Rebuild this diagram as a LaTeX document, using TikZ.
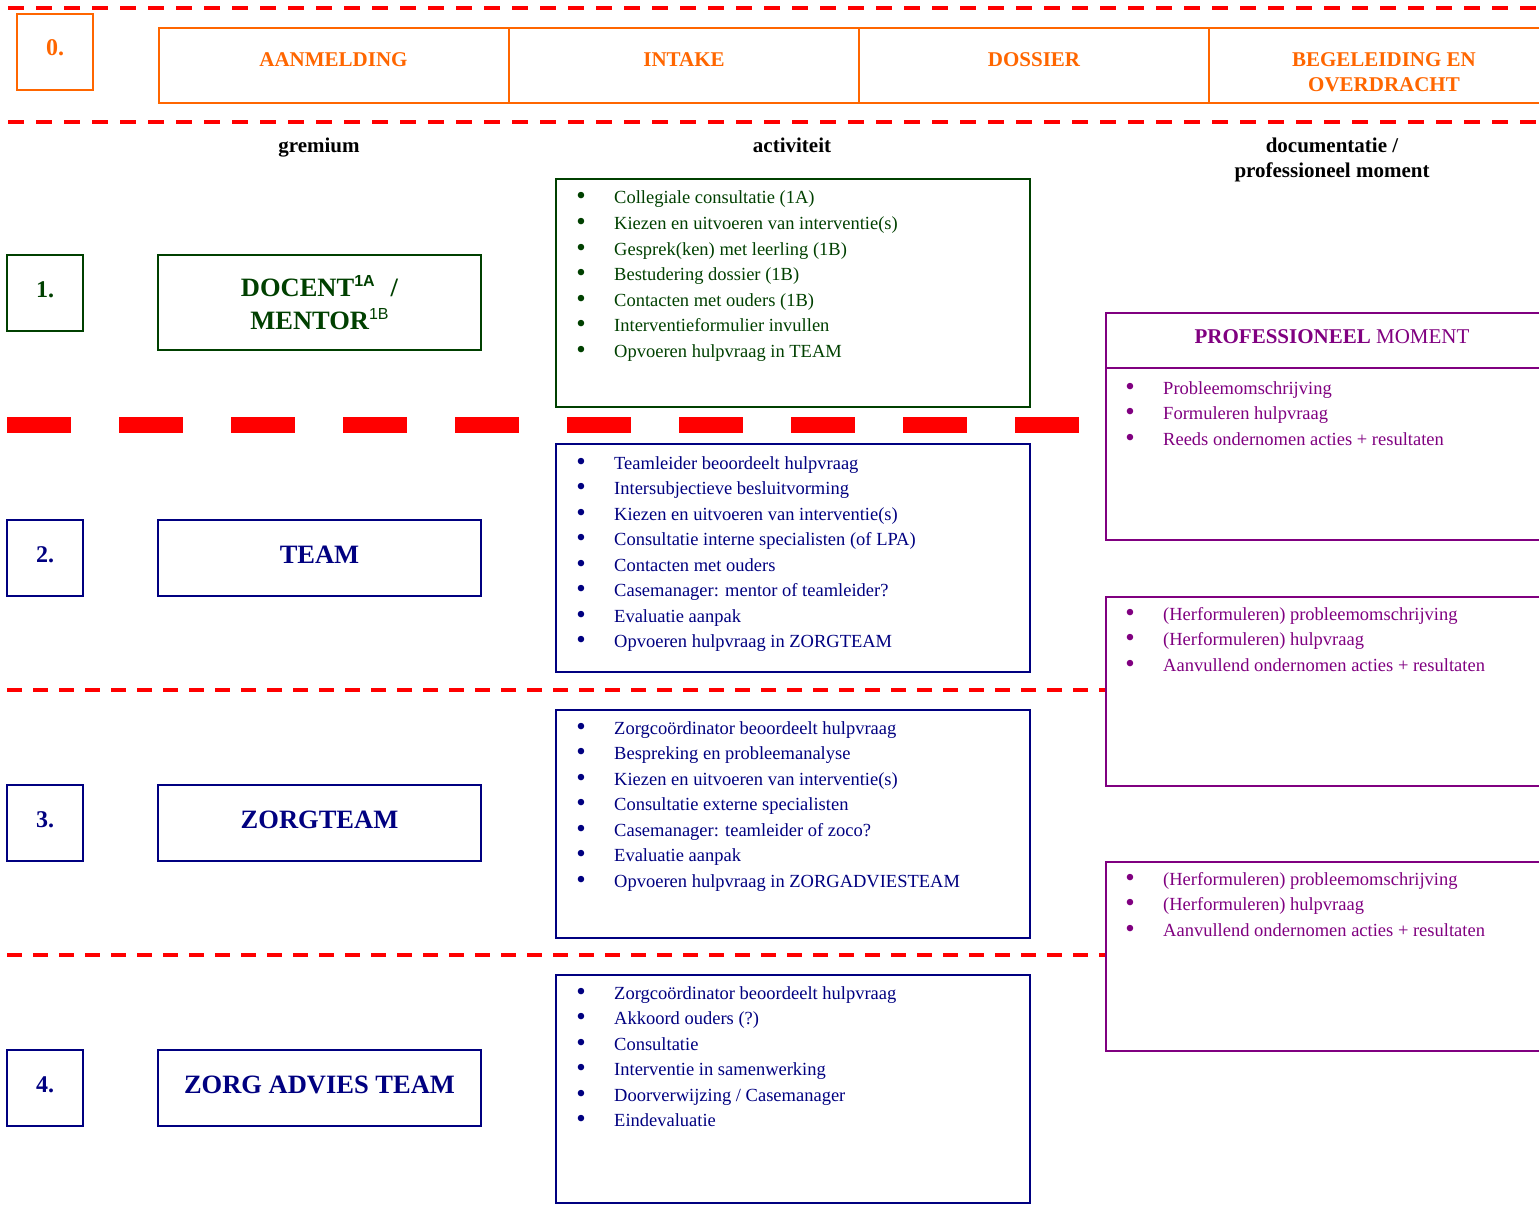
\documentclass[tikz,border=0pt]{standalone}
\usepackage{fontspec}
\setmainfont{Liberation Serif}
\newfontfamily\supfont{Liberation Sans}
\definecolor{orng}{RGB}{255,102,0}
\definecolor{dgreen}{RGB}{0,64,0}
\definecolor{navy}{RGB}{0,0,128}
\definecolor{purp}{RGB}{128,0,128}
\definecolor{rred}{RGB}{255,0,0}
\tikzset{
  box/.style={draw, line width=2pt, inner sep=0pt, align=center},
  numbox/.style={box, minimum width=76pt, minimum height=76pt},
  numtxt/.style={inner sep=0pt, font=\fontsize{24}{28}\selectfont\bfseries},
  grembox/.style={box, minimum width=323pt, font=\fontsize{26.5}{32}\selectfont\bfseries},
  actbox/.style={box, minimum width=474pt, minimum height=228pt},
  pmbox/.style={box, minimum width=455pt, anchor=north west},
  hdrcell/.style={box, minimum width=350pt, minimum height=75pt},
  hdrtxt/.style={inner sep=0pt, align=center, font=\fontsize{21}{25}\selectfont\bfseries},
  colhead/.style={font=\fontsize{21}{25}\selectfont\bfseries, align=center, anchor=base, inner sep=0pt},
  itm/.style={anchor=base west, inner sep=0pt, font=\fontsize{18.5}{22}\selectfont},
  bul/.style={anchor=base, inner sep=0pt, font=\fontsize{27}{30}\selectfont},
  rowdash/.style={draw=rred, line width=3.8pt, dash pattern=on 15pt off 11pt},
  topdash/.style={draw=rred, line width=3.8pt, dash pattern=on 16pt off 12pt},
  thickdash/.style={draw=rred, line width=16pt, dash pattern=on 64pt off 48pt},
}
\begin{document}
\begin{tikzpicture}[x=1pt,y=-1pt]
\useasboundingbox (0,0) rectangle (1539,1217);

% dashed separators
\coordinate (t1a) at (8,8);   \coordinate (t1b) at (1545,8);
\coordinate (t2a) at (8,122); \coordinate (t2b) at (1545,122);
\draw[topdash] (t1a) -- (t1b);
\draw[topdash] (t2a) -- (t2b);
\coordinate (k1a) at (7,425); \coordinate (k1b) at (1080,425);
\draw[thickdash] (k1a) -- (k1b);
\coordinate (r2a) at (7,690); \coordinate (r2b) at (1105,690);
\coordinate (r3a) at (7,955); \coordinate (r3b) at (1105,955);
\draw[rowdash] (r2a) -- (r2b);
\draw[rowdash] (r3a) -- (r3b);

% header row
\node[numbox, draw=orng] (n0) at (55,52) {};
\node[numtxt, text=orng] (n0t) at (55,48) {0.};
\node[hdrcell, draw=orng] (h1) at (333.5,65.5) {};
\node[hdrcell, draw=orng] (h2) at (684,65.5) {};
\node[hdrcell, draw=orng] (h3) at (1034,65.5) {};
\node[hdrcell, draw=orng] (h4) at (1384,65.5) {};
\node[hdrtxt, text=orng] (h1t) at (333.5,60) {AANMELDING};
\node[hdrtxt, text=orng] (h2t) at (684,60) {INTAKE};
\node[hdrtxt, text=orng] (h3t) at (1034,60) {DOSSIER};
\node[hdrtxt, text=orng, anchor=base] (h4t) at (1384,91.5) {BEGELEIDING EN\\OVERDRACHT};

% column headings
\node[colhead] (cg) at (319,153) {gremium};
\node[colhead] (ca) at (792,153) {activiteit};
\node[colhead] (cd) at (1332,178) {documentatie /\\professioneel moment};

% row 1
\node[numbox, draw=dgreen] (n1) at (45,293) {};
\node[numtxt, text=dgreen] (n1t) at (45,290) {1.};
\node[grembox, draw=dgreen, text=dgreen, minimum height=95pt] (g1) at (319.5,302.5)
  {DOCENT\raisebox{10pt}{\fontsize{16}{16}\supfont\bfseries 1A}\hspace{16pt}/\\[1pt]
   MENTOR\raisebox{10pt}{\fontsize{16}{16}\supfont\mdseries 1B}};
\node[actbox, draw=dgreen] (act1) at (793,293) {};
\foreach \t [count=\i] in {{Collegiale consultatie (1A)},{Kiezen en uitvoeren van interventie(s)},{Gesprek(ken) met leerling (1B)},{Bestudering dossier (1B)},{Contacten met ouders (1B)},{Interventieformulier invullen},{Opvoeren hulpvraag in TEAM}}{
  \node[bul, text=dgreen] (b1-\i) at (581,{205+(\i-1)*25.5}) {\textbullet};
  \node[itm, text=dgreen] (a1-\i) at (614,{204+(\i-1)*25.5}) {\t};
}

% row 2
\node[numbox, draw=navy] (n2) at (45,558) {};
\node[numtxt, text=navy] (n2t) at (45,555) {2.};
\node[grembox, draw=navy, text=navy, minimum height=76pt] (g2) at (319.5,558) {};
\node[grembox, draw=none, text=navy] (g2t) at (319.5,555) {TEAM};
\node[actbox, draw=navy] (act2) at (793,558) {};
\foreach \t [count=\i] in {{Teamleider beoordeelt hulpvraag},{Intersubjectieve besluitvorming},{Kiezen en uitvoeren van interventie(s)},{Consultatie interne specialisten (of LPA)},{Contacten met ouders},{Casemanager: mentor of teamleider?},{Evaluatie aanpak},{Opvoeren hulpvraag in ZORGTEAM}}{
  \node[bul, text=navy] (b2-\i) at (581,{470+(\i-1)*25.5}) {\textbullet};
  \node[itm, text=navy] (a2-\i) at (614,{469+(\i-1)*25.5}) {\t};
}

% row 3
\node[numbox, draw=navy] (n3) at (45,823) {};
\node[numtxt, text=navy] (n3t) at (45,820) {3.};
\node[grembox, draw=navy, minimum height=76pt] (g3) at (319.5,823) {};
\node[grembox, draw=none, text=navy] (g3t) at (319.5,820) {ZORGTEAM};
\node[actbox, draw=navy] (act3) at (793,823.5) {};
\foreach \t [count=\i] in {{Zorgcoördinator beoordeelt hulpvraag},{Bespreking en probleemanalyse},{Kiezen en uitvoeren van interventie(s)},{Consultatie externe specialisten},{Casemanager: teamleider of zoco?},{Evaluatie aanpak},{Opvoeren hulpvraag in ZORGADVIESTEAM}}{
  \node[bul, text=navy] (b3-\i) at (581,{735+(\i-1)*25.5}) {\textbullet};
  \node[itm, text=navy] (a3-\i) at (614,{734+(\i-1)*25.5}) {\t};
}

% row 4
\node[numbox, draw=navy] (n4) at (45,1088) {};
\node[numtxt, text=navy] (n4t) at (45,1085) {4.};
\node[grembox, draw=navy, minimum height=76pt] (g4) at (319.5,1088) {};
\node[grembox, draw=none, text=navy] (g4t) at (319.5,1085) {ZORG ADVIES TEAM};
\node[actbox, draw=navy] (act4) at (793,1088.5) {};
\foreach \t [count=\i] in {{Zorgcoördinator beoordeelt hulpvraag},{Akkoord ouders (?)},{Consultatie},{Interventie in samenwerking},{Doorverwijzing / Casemanager},{Eindevaluatie}}{
  \node[bul, text=navy] (b4-\i) at (581,{1000+(\i-1)*25.5}) {\textbullet};
  \node[itm, text=navy] (a4-\i) at (614,{999+(\i-1)*25.5}) {\t};
}

% professioneel moment boxes
\node[pmbox, draw=purp, minimum height=227pt] (pm1) at (1105,312) {};
\coordinate (pl) at (1105,368);
\draw[purp, line width=2pt] (pl) -- (pl -| pm1.east);
\node[font=\fontsize{21}{25}\selectfont, text=purp, inner sep=0pt] (pmt) at (1332,337) {\textbf{PROFESSIONEEL} MOMENT};
\foreach \t [count=\i] in {{Probleemomschrijving},{Formuleren hulpvraag},{Reeds ondernomen acties + resultaten}}{
  \node[bul, text=purp] (c1-\i) at (1130,{395+(\i-1)*25.5}) {\textbullet};
  \node[itm, text=purp] (p1-\i) at (1163,{394+(\i-1)*25.5}) {\t};
}
\node[pmbox, draw=purp, minimum height=189pt] (pm2) at (1105,596) {};
\foreach \t [count=\i] in {{(Herformuleren) probleemomschrijving},{(Herformuleren) hulpvraag},{Aanvullend ondernomen acties + resultaten}}{
  \node[bul, text=purp] (c2-\i) at (1130,{621+(\i-1)*25.5}) {\textbullet};
  \node[itm, text=purp] (p2-\i) at (1163,{620+(\i-1)*25.5}) {\t};
}
\node[pmbox, draw=purp, minimum height=189pt] (pm3) at (1105,861) {};
\foreach \t [count=\i] in {{(Herformuleren) probleemomschrijving},{(Herformuleren) hulpvraag},{Aanvullend ondernomen acties + resultaten}}{
  \node[bul, text=purp] (c3-\i) at (1130,{886+(\i-1)*25.5}) {\textbullet};
  \node[itm, text=purp] (p3-\i) at (1163,{885+(\i-1)*25.5}) {\t};
}
\end{tikzpicture}
\end{document}
